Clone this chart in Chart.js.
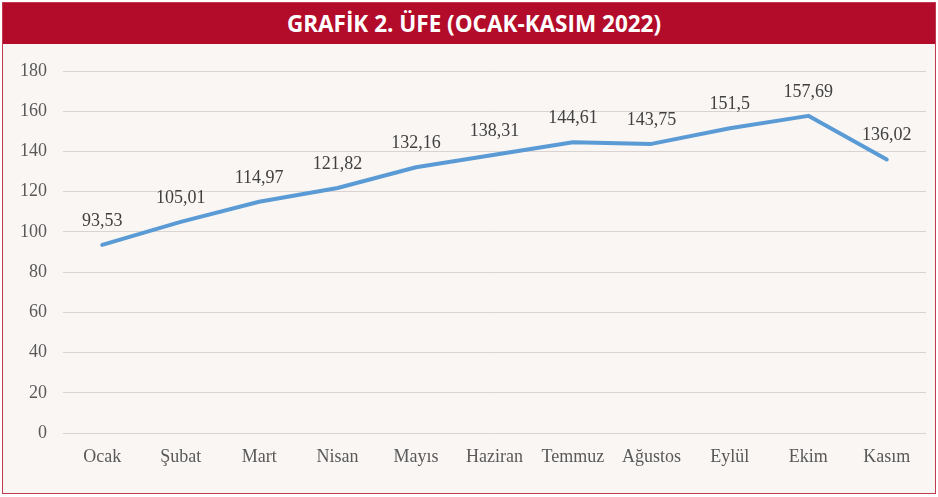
<!DOCTYPE html>
<html>
<head>
<meta charset="utf-8">
<script src="https://cdn.jsdelivr.net/npm/chart.js@4"></script>
<style>
  body { margin: 0; background: #fff; }
  #box {
    position: absolute; left: 2px; top: 2px;
    width: 932px; height: 490px;
    border: 1px solid #c23a52;
    background: #faf6f4;
  }
  #title {
    height: 41px; background: #b30c2a; color: #fff;
    font-family: "Open Sans", sans-serif; font-weight: bold; font-size: 22.5px;
    text-align: center; line-height: 41px; padding-left: 10px;
  }
  #wrap { position: relative; width: 932px; height: 449px; }
</style>
</head>
<body>
<div id="box">
  <div id="title">GRAFİK 2. ÜFE (OCAK-KASIM 2022)</div>
  <div id="wrap"><canvas id="lineChart"></canvas></div>
</div>
<script>
const months = ["Ocak", "Şubat", "Mart", "Nisan", "Mayıs", "Haziran", "Temmuz", "Ağustos", "Eylül", "Ekim", "Kasım"];
const ufe = [93.53, 105.01, 114.97, 121.82, 132.16, 138.31, 144.61, 143.75, 151.5, 157.69, 136.02];

const serif = "'Liberation Serif', 'Times New Roman', serif";

// values above each point, Turkish decimal comma
const valueLabels = {
    id: "valueLabels",
    afterDatasetsDraw(chart) {
        const ctx = chart.ctx;
        const meta = chart.getDatasetMeta(0);
        ctx.save();
        ctx.font = "18px " + serif;
        ctx.fillStyle = "#404040";
        ctx.textAlign = "center";
        ctx.textBaseline = "middle";
        meta.data.forEach((pt, i) => {
            ctx.fillText(String(ufe[i]).replace(".", ","), pt.x, pt.y - 24);
        });
        ctx.restore();
    }
};

const ctx = document.getElementById("lineChart").getContext("2d");
new Chart(ctx, {
    type: "line",
    data: {
        labels: months,
        datasets: [{
            data: ufe,
            borderColor: "#5b9bd5",
            borderWidth: 4,
            pointRadius: 0,
            borderCapStyle: "round",
            borderJoinStyle: "round",
            tension: 0
        }]
    },
    options: {
        responsive: true,
        maintainAspectRatio: false,
        animation: false,
        layout: { padding: { top: 27, right: 9, left: 0, bottom: 0 } },
        plugins: { legend: { display: false }, tooltip: { enabled: false } },
        scales: {
            x: {
                offset: true,
                grid: { display: false },
                border: { display: false },
                ticks: { color: "#595959", font: { family: serif, size: 18 }, padding: 5, maxRotation: 0 },
                afterFit(scale) { scale.height = 60; }
            },
            y: {
                min: 0,
                max: 180,
                ticks: { stepSize: 20, color: "#595959", font: { family: serif, size: 18 }, padding: 16 },
                grid: { color: "#d9d4d2", drawTicks: false },
                border: { display: false },
                afterFit(scale) { scale.width = 60; }
            }
        }
    },
    plugins: [valueLabels]
});
</script>
</body>
</html>
